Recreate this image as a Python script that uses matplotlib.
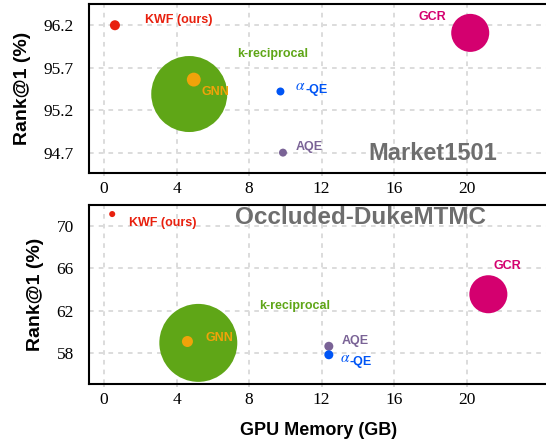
import matplotlib.pyplot as plt

plt.rcParams['mathtext.fontset'] = 'stix'

methods = ['k-reciprocal', 'GNN', 'KWF (ours)', 'GCR', 'AQE', 'aQE']
colors = ['#5FA617', '#F0A30A', '#E8200E', '#D4006F', '#7A6396', '#0055F5']

# Market1501
mem_market = [4.7, 4.95, 0.6, 20.2, 9.87, 9.73]
rank_market = [95.39, 95.56, 96.2, 96.11, 94.7, 95.42]
bubble_market = [2995, 100, 52, 750, 33, 33]

# Occluded-DukeMTMC
mem_duke = [5.2, 4.6, 0.45, 21.2, 12.4, 12.4]
rank_duke = [58.97, 59.1, 71.1, 63.55, 58.65, 57.85]
bubble_duke = [3150, 63, 19, 750, 42, 42]

xticks = [0, 4, 8, 12, 16, 20]
yticks_market = [94.7, 95.2, 95.7, 96.2]
yticks_duke = [58, 62, 66, 70]

# label offsets (points) from each marker
off_market = [(34.6, 28.8), (5.8, -8.6), (21.6, 3.6), (-37.4, 11.5), (9.4, 4.3), (10.8, 1.4)]
off_duke = [(44, 26.6), (13, 2.2), (12.2, -6.5), (3.6, 20.2), (9.4, 3.6), (7.9, -5)]

fig = plt.figure(figsize=(5.46, 4.41), dpi=100)
ax1 = fig.add_axes([0.163, 0.6077, 0.841, 0.3832])
ax2 = fig.add_axes([0.163, 0.1293, 0.841, 0.4065])


def style(ax, yticks, ylim):
    ax.set_xlim(-0.83, 24.5)
    ax.set_ylim(*ylim)
    ax.set_xticks(xticks)
    ax.set_yticks(yticks)
    ax.set_yticklabels([str(t) for t in yticks])
    ax.grid(True, color='#DCDCDC', linestyle=(0, (2.4, 2.6)), linewidth=1.4, zorder=0)
    ax.set_axisbelow(True)
    for s in ax.spines.values():
        s.set_linewidth(1.5)
    ax.tick_params(length=0, labelsize=12.5)
    ax.tick_params(axis='y', pad=11)
    ax.tick_params(axis='x', length=2.5, color='#CFCFCF', width=1.2, pad=3)
    for lbl in ax.get_xticklabels() + ax.get_yticklabels():
        lbl.set_fontfamily('Liberation Serif')
    ax.set_ylabel('Rank@1 (%)', fontsize=14, fontweight='bold',
                  family='Liberation Sans', labelpad=9)


def draw(ax, mem, rank, bubble, offs):
    ax.scatter(mem, rank, s=bubble, c=colors, linewidths=0, zorder=3)
    for name, x, y, c, (dx, dy) in zip(methods, mem, rank, colors, offs):
        if name == 'aQE':
            ax.annotate(r'$\alpha$', (x, y), xytext=(dx, dy + 3), textcoords='offset points',
                        color=c, fontsize=11, va='center', ha='left')
            ax.annotate('-QE', (x, y), xytext=(dx + 7, dy), textcoords='offset points',
                        color=c, fontsize=9, fontweight='bold', family='Liberation Sans',
                        va='center', ha='left')
        else:
            ax.annotate(name, (x, y), xytext=(dx, dy), textcoords='offset points',
                        color=c, fontsize=9, fontweight='bold', family='Liberation Sans',
                        va='center', ha='left')


style(ax1, yticks_market, (94.46, 96.45))
style(ax2, yticks_duke, (55.1, 71.98))
draw(ax1, mem_market, rank_market, bubble_market, off_market)
draw(ax2, mem_duke, rank_duke, bubble_duke, off_duke)

ax2.set_xlabel('GPU Memory (GB)', fontsize=13, fontweight='bold',
               family='Liberation Sans', labelpad=10)

fig.text(0.674, 0.653, 'Market1501', fontsize=17, fontweight='bold', color='#6E6E6E',
         family='Liberation Sans', va='center', ha='left')
fig.text(0.430, 0.506, 'Occluded-DukeMTMC', fontsize=17.5, fontweight='bold', color='#6E6E6E',
         family='Liberation Sans', va='center', ha='left')

fig.savefig('out.png', dpi=100)
